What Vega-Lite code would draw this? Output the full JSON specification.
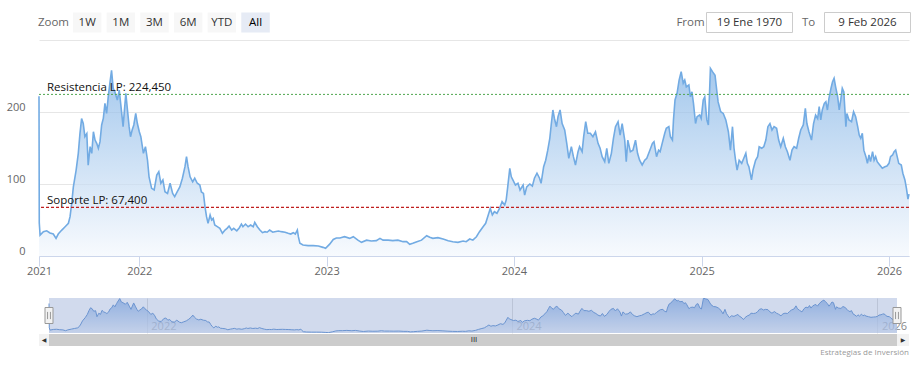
{
  "$schema": "https://vega.github.io/schema/vega-lite/v6.json",
  "background": "white",
  "padding": {"left": 6, "top": 9.5, "right": 14, "bottom": 5},
  "config": {
    "font": "Open Sans",
    "view": {"stroke": null},
    "axis": {"labelColor": "#666666", "labelFontSize": 11, "gridColor": "#e6e6e6", "title": null}
  },
  "datasets": {
    "toolbar": [{"item": "Zoom"}, {"item": "1W"}, {"item": "1M"}, {"item": "3M"}, {"item": "6M"}, {"item": "YTD"}, {"item": "All"}],
    "range": [{"item": "From"}, {"item": "19 Ene 1970"}, {"item": "To"}, {"item": "9 Feb 2026"}],
    "selection": [{"from": "2021-01-01", "to": "2026-02-09"}],
    "levels": [
      {"name": "Resistencia LP", "value": 224.45, "label": "Resistencia LP: 224,450"},
      {"name": "Soporte LP", "value": 67.4, "label": "Soporte LP: 67,400"}
    ],
    "prices": [
      {"d":"2021-01-01","v":222},{"d":"2021-01-02","v":46},{"d":"2021-01-05","v":29},{"d":"2021-01-17","v":33.8},{"d":"2021-01-29","v":35},{"d":"2021-02-10","v":32},{"d":"2021-02-22","v":30.5},{"d":"2021-03-04","v":24.5},{"d":"2021-03-12","v":30.5},{"d":"2021-03-25","v":36},{"d":"2021-04-06","v":40.7},{"d":"2021-04-18","v":45.4},{"d":"2021-04-24","v":54.6},{"d":"2021-04-30","v":73},{"d":"2021-05-06","v":96},{"d":"2021-05-16","v":119},{"d":"2021-05-24","v":142.6},{"d":"2021-05-30","v":170},{"d":"2021-06-05","v":191},{"d":"2021-06-11","v":184},{"d":"2021-06-17","v":165.7},{"d":"2021-06-24","v":170},{"d":"2021-06-29","v":126},{"d":"2021-07-06","v":151.8},{"d":"2021-07-12","v":142.6},{"d":"2021-07-18","v":172.6},{"d":"2021-07-24","v":161},{"d":"2021-07-30","v":156.5},{"d":"2021-08-05","v":149.5},{"d":"2021-08-11","v":158.8},{"d":"2021-08-17","v":182},{"d":"2021-08-23","v":191},{"d":"2021-08-29","v":212},{"d":"2021-09-04","v":198},{"d":"2021-09-10","v":221},{"d":"2021-09-16","v":240},{"d":"2021-09-22","v":258},{"d":"2021-09-28","v":233},{"d":"2021-10-04","v":228},{"d":"2021-10-13","v":216.7},{"d":"2021-10-20","v":230.5},{"d":"2021-10-29","v":198},{"d":"2021-11-03","v":179.6},{"d":"2021-11-13","v":226},{"d":"2021-11-19","v":202.8},{"d":"2021-11-25","v":179.6},{"d":"2021-11-30","v":165.7},{"d":"2021-12-06","v":175},{"d":"2021-12-12","v":182},{"d":"2021-12-19","v":198},{"d":"2021-12-25","v":184},{"d":"2022-01-01","v":172.6},
      {"d":"2022-01-04","v":165.7},{"d":"2022-01-09","v":142.6},{"d":"2022-01-13","v":151.8},{"d":"2022-01-17","v":133},{"d":"2022-01-20","v":110},{"d":"2022-01-25","v":94},{"d":"2022-01-30","v":91.7},{"d":"2022-02-04","v":112.5},{"d":"2022-02-08","v":117},{"d":"2022-02-12","v":101},{"d":"2022-02-16","v":105.6},{"d":"2022-02-20","v":89.3},{"d":"2022-02-25","v":87},{"d":"2022-03-02","v":101},{"d":"2022-03-07","v":87},{"d":"2022-03-11","v":82.4},{"d":"2022-03-16","v":89.3},{"d":"2022-03-21","v":96},{"d":"2022-03-26","v":108},{"d":"2022-03-31","v":124},{"d":"2022-04-03","v":138},{"d":"2022-04-06","v":124},{"d":"2022-04-10","v":110},{"d":"2022-04-15","v":103},{"d":"2022-04-19","v":108},{"d":"2022-04-24","v":101},{"d":"2022-04-29","v":98.6},{"d":"2022-05-02","v":89},{"d":"2022-05-06","v":87},{"d":"2022-05-09","v":68.5},{"d":"2022-05-12","v":54.6},{"d":"2022-05-15","v":45.4},{"d":"2022-05-19","v":57},{"d":"2022-05-22","v":50},{"d":"2022-05-25","v":52.3},{"d":"2022-05-28","v":43},{"d":"2022-06-02","v":40.7},{"d":"2022-06-07","v":38.4},{"d":"2022-06-12","v":31.5},{"d":"2022-06-17","v":36},{"d":"2022-06-21","v":38.4},{"d":"2022-06-25","v":41.7},{"d":"2022-06-30","v":36},{"d":"2022-07-04","v":38.4},{"d":"2022-07-10","v":35},{"d":"2022-07-15","v":39.3},{"d":"2022-07-19","v":44.4},{"d":"2022-07-22","v":40.7},{"d":"2022-07-27","v":44.4},{"d":"2022-08-01","v":40.7},{"d":"2022-08-06","v":43},{"d":"2022-08-11","v":40.7},{"d":"2022-08-14","v":46.8},{"d":"2022-08-19","v":40.7},{"d":"2022-08-24","v":36},{"d":"2022-08-29","v":32.4},{"d":"2022-09-03","v":33.8},{"d":"2022-09-07","v":33},{"d":"2022-09-12","v":36},{"d":"2022-09-18","v":33},{"d":"2022-09-22","v":33.8},{"d":"2022-09-29","v":34.7},{"d":"2022-10-05","v":33.8},{"d":"2022-10-12","v":33},{"d":"2022-10-18","v":31.5},{"d":"2022-10-23","v":30.5},{"d":"2022-10-28","v":32.4},{"d":"2022-11-01","v":30.5},{"d":"2022-11-05","v":36},{"d":"2022-11-07","v":26.8},{"d":"2022-11-10","v":17.6},{"d":"2022-11-16","v":15.3},{"d":"2022-11-26","v":14.4},{"d":"2022-12-06","v":14.4},{"d":"2022-12-16","v":13.9},{"d":"2022-12-25","v":12},{"d":"2022-12-30","v":10.6},
      {"d":"2023-01-07","v":16.5},{"d":"2023-01-14","v":23},{"d":"2023-01-20","v":25},{"d":"2023-01-27","v":25},{"d":"2023-02-05","v":26.8},{"d":"2023-02-15","v":24.5},{"d":"2023-02-22","v":26.8},{"d":"2023-03-03","v":22},{"d":"2023-03-10","v":19},{"d":"2023-03-20","v":22},{"d":"2023-03-29","v":20.8},{"d":"2023-04-08","v":21.3},{"d":"2023-04-15","v":24.5},{"d":"2023-04-21","v":22},{"d":"2023-05-01","v":22},{"d":"2023-05-10","v":21.3},{"d":"2023-05-20","v":22},{"d":"2023-05-30","v":19.9},{"d":"2023-06-06","v":19.9},{"d":"2023-06-12","v":16.2},{"d":"2023-06-18","v":17.6},{"d":"2023-06-26","v":19.9},{"d":"2023-07-05","v":22},{"d":"2023-07-15","v":28.2},{"d":"2023-07-21","v":26},{"d":"2023-07-27","v":24.5},{"d":"2023-08-06","v":25.5},{"d":"2023-08-16","v":23.6},{"d":"2023-08-26","v":21.3},{"d":"2023-09-04","v":19.9},{"d":"2023-09-14","v":19},{"d":"2023-09-24","v":20.8},{"d":"2023-09-30","v":19.9},{"d":"2023-10-07","v":23.6},{"d":"2023-10-13","v":22},{"d":"2023-10-20","v":26.8},{"d":"2023-10-26","v":33.8},{"d":"2023-11-02","v":40.7},{"d":"2023-11-07","v":45.4},{"d":"2023-11-11","v":54.6},{"d":"2023-11-16","v":66},{"d":"2023-11-20","v":57},{"d":"2023-11-24","v":61.5},{"d":"2023-11-29","v":59.3},{"d":"2023-12-04","v":66},{"d":"2023-12-09","v":75.4},{"d":"2023-12-14","v":70.8},{"d":"2023-12-17","v":77.8},{"d":"2023-12-20","v":96},{"d":"2023-12-24","v":121.8},{"d":"2023-12-27","v":110},{"d":"2023-12-30","v":105.6},
      {"d":"2024-01-04","v":98.6},{"d":"2024-01-09","v":101},{"d":"2024-01-13","v":91.7},{"d":"2024-01-19","v":98.6},{"d":"2024-01-22","v":84.7},{"d":"2024-01-26","v":96},{"d":"2024-02-01","v":100},{"d":"2024-02-06","v":97},{"d":"2024-02-10","v":108},{"d":"2024-02-15","v":115},{"d":"2024-02-20","v":108},{"d":"2024-02-23","v":101},{"d":"2024-02-28","v":124},{"d":"2024-03-03","v":133},{"d":"2024-03-07","v":147},{"d":"2024-03-11","v":163.5},{"d":"2024-03-14","v":184},{"d":"2024-03-17","v":202.8},{"d":"2024-03-20","v":191},{"d":"2024-03-24","v":179.6},{"d":"2024-03-27","v":193.5},{"d":"2024-03-31","v":202.8},{"d":"2024-04-04","v":184},{"d":"2024-04-09","v":175},{"d":"2024-04-13","v":156.5},{"d":"2024-04-17","v":135.7},{"d":"2024-04-22","v":151.8},{"d":"2024-04-26","v":138},{"d":"2024-04-30","v":126.4},{"d":"2024-05-05","v":144.9},{"d":"2024-05-08","v":151.8},{"d":"2024-05-13","v":144.9},{"d":"2024-05-16","v":165.7},{"d":"2024-05-20","v":186.5},{"d":"2024-05-24","v":170.4},{"d":"2024-05-29","v":170.4},{"d":"2024-06-03","v":165.7},{"d":"2024-06-08","v":172.6},{"d":"2024-06-13","v":156.5},{"d":"2024-06-17","v":149.6},{"d":"2024-06-21","v":138},{"d":"2024-06-26","v":131},{"d":"2024-06-30","v":149.6},{"d":"2024-07-04","v":128.7},{"d":"2024-07-09","v":142.6},{"d":"2024-07-13","v":163.5},{"d":"2024-07-17","v":179.6},{"d":"2024-07-22","v":186.5},{"d":"2024-07-26","v":168},{"d":"2024-07-30","v":184},{"d":"2024-08-04","v":161},{"d":"2024-08-07","v":131},{"d":"2024-08-10","v":161},{"d":"2024-08-15","v":144.9},{"d":"2024-08-20","v":147},{"d":"2024-08-25","v":161},{"d":"2024-08-29","v":142.6},{"d":"2024-09-02","v":133},{"d":"2024-09-07","v":126.4},{"d":"2024-09-12","v":133},{"d":"2024-09-16","v":135.7},{"d":"2024-09-22","v":147},{"d":"2024-09-27","v":156.5},{"d":"2024-09-30","v":158.8},{"d":"2024-10-05","v":138},{"d":"2024-10-09","v":147},{"d":"2024-10-12","v":144.9},{"d":"2024-10-16","v":156.5},{"d":"2024-10-21","v":170.4},{"d":"2024-10-24","v":177.3},{"d":"2024-10-29","v":179.6},{"d":"2024-11-01","v":165.7},{"d":"2024-11-05","v":161},{"d":"2024-11-07","v":189},{"d":"2024-11-10","v":216.7},{"d":"2024-11-14","v":226},{"d":"2024-11-18","v":244.4},{"d":"2024-11-22","v":256},{"d":"2024-11-26","v":240},{"d":"2024-11-29","v":244.4},{"d":"2024-12-02","v":235},{"d":"2024-12-07","v":237.5},{"d":"2024-12-10","v":221},{"d":"2024-12-13","v":228},{"d":"2024-12-16","v":212},{"d":"2024-12-20","v":184},{"d":"2024-12-23","v":193.5},{"d":"2024-12-28","v":195.8},{"d":"2024-12-31","v":191},
      {"d":"2025-01-04","v":216.7},{"d":"2025-01-07","v":221},{"d":"2025-01-11","v":189},{"d":"2025-01-14","v":182},{"d":"2025-01-18","v":260.6},{"d":"2025-01-22","v":256},{"d":"2025-01-27","v":251},{"d":"2025-01-31","v":226},{"d":"2025-02-02","v":214},{"d":"2025-02-07","v":200.4},{"d":"2025-02-12","v":198},{"d":"2025-02-17","v":189},{"d":"2025-02-22","v":172.6},{"d":"2025-02-26","v":147},{"d":"2025-03-02","v":179.6},{"d":"2025-03-05","v":149.6},{"d":"2025-03-08","v":133},{"d":"2025-03-11","v":119.4},{"d":"2025-03-15","v":133},{"d":"2025-03-20","v":128.7},{"d":"2025-03-24","v":135.7},{"d":"2025-03-28","v":142.6},{"d":"2025-03-31","v":128.7},{"d":"2025-04-03","v":124},{"d":"2025-04-08","v":105.6},{"d":"2025-04-11","v":119.4},{"d":"2025-04-16","v":133},{"d":"2025-04-20","v":138},{"d":"2025-04-23","v":151.8},{"d":"2025-04-28","v":149.6},{"d":"2025-05-02","v":151.8},{"d":"2025-05-06","v":161},{"d":"2025-05-10","v":179.6},{"d":"2025-05-14","v":184},{"d":"2025-05-18","v":175},{"d":"2025-05-22","v":179.6},{"d":"2025-05-27","v":177.3},{"d":"2025-05-31","v":161},{"d":"2025-06-04","v":151.8},{"d":"2025-06-09","v":163.5},{"d":"2025-06-13","v":151.8},{"d":"2025-06-17","v":144.9},{"d":"2025-06-22","v":133},{"d":"2025-06-26","v":147},{"d":"2025-06-30","v":151.8},{"d":"2025-07-05","v":149.6},{"d":"2025-07-09","v":163.5},{"d":"2025-07-13","v":175},{"d":"2025-07-18","v":182},{"d":"2025-07-22","v":205},{"d":"2025-07-25","v":184},{"d":"2025-07-29","v":172.6},{"d":"2025-08-03","v":161},{"d":"2025-08-07","v":184},{"d":"2025-08-11","v":195.8},{"d":"2025-08-15","v":191},{"d":"2025-08-18","v":207.4},{"d":"2025-08-21","v":189},{"d":"2025-08-24","v":202.8},{"d":"2025-08-28","v":212},{"d":"2025-08-31","v":214.3},{"d":"2025-09-03","v":202.8},{"d":"2025-09-06","v":219},{"d":"2025-09-10","v":233},{"d":"2025-09-13","v":242},{"d":"2025-09-16","v":246.8},{"d":"2025-09-19","v":235},{"d":"2025-09-23","v":221},{"d":"2025-09-26","v":202.8},{"d":"2025-09-29","v":216.7},{"d":"2025-10-02","v":233},{"d":"2025-10-05","v":228},{"d":"2025-10-09","v":179.6},{"d":"2025-10-11","v":198},{"d":"2025-10-15","v":189},{"d":"2025-10-20","v":186.5},{"d":"2025-10-24","v":200.4},{"d":"2025-10-28","v":193.5},{"d":"2025-11-01","v":179.6},{"d":"2025-11-04","v":168},{"d":"2025-11-07","v":163.5},{"d":"2025-11-10","v":170.4},{"d":"2025-11-13","v":147},{"d":"2025-11-17","v":138},{"d":"2025-11-20","v":128.7},{"d":"2025-11-23","v":140.3},{"d":"2025-11-26","v":131},{"d":"2025-11-30","v":144.9},{"d":"2025-12-03","v":133},{"d":"2025-12-06","v":138},{"d":"2025-12-09","v":131},{"d":"2025-12-14","v":126.4},{"d":"2025-12-19","v":121.8},{"d":"2025-12-24","v":124},{"d":"2025-12-28","v":125},
      {"d":"2026-01-01","v":128.7},{"d":"2026-01-04","v":138},{"d":"2026-01-08","v":140.3},{"d":"2026-01-11","v":144.9},{"d":"2026-01-14","v":147},{"d":"2026-01-17","v":138},{"d":"2026-01-20","v":128.7},{"d":"2026-01-25","v":126.4},{"d":"2026-01-28","v":115},{"d":"2026-02-01","v":105.6},{"d":"2026-02-04","v":94},{"d":"2026-02-07","v":79},{"d":"2026-02-09","v":86}
    ]
  },
  "spacing": 27.5,
  "bounds": "flush",
  "vconcat": [
    {
      "spacing": 391,
      "bounds": "flush",
      "hconcat": [
        {
          "width": 231,
          "height": 20,
          "data": {"name": "toolbar"},
          "layer": [
            {
              "transform": [{"filter": "datum.item !== 'Zoom'"}],
              "mark": {"type": "point", "shape": "M-0.983,-0.69H0.983V0.69H-0.983Z", "size": 841, "filled": true, "opacity": 1, "strokeWidth": 0},
              "encoding": {
                "x": {"field": "item", "type": "nominal", "sort": null, "scale": {"type": "band", "paddingInner": 0.14, "paddingOuter": 0, "domain": ["Zoom", "1W", "1M", "3M", "6M", "YTD", "All"]}, "axis": null},
                "color": {"condition": {"test": "datum.item === 'All'", "value": "#e6ebf5"}, "value": "#f7f7f7"}
              }
            },
            {
              "mark": {"type": "text", "fontSize": 11.5, "baseline": "middle"},
              "encoding": {
                "x": {"field": "item", "type": "nominal", "sort": null, "scale": {"type": "band", "paddingInner": 0.14, "paddingOuter": 0, "domain": ["Zoom", "1W", "1M", "3M", "6M", "YTD", "All"]}, "axis": null},
                "text": {"field": "item"},
                "color": {"condition": [{"test": "datum.item === 'Zoom'", "value": "#666666"}, {"test": "datum.item === 'All'", "value": "#000000"}], "value": "#333333"},
                "fontWeight": {"condition": {"test": "datum.item === 'All'", "value": "bold"}, "value": "normal"}
              }
            }
          ]
        },
        {
          "width": 236,
          "height": 20,
          "data": {"name": "range"},
          "layer": [
            {
              "transform": [{"filter": "datum.item !== 'From' && datum.item !== 'To'"}],
              "mark": {"type": "point", "shape": "M-1,-0.2326H1V0.2326H-1Z", "size": 7396, "filled": true, "fill": "white", "stroke": "#cccccc", "strokeWidth": 1, "opacity": 1},
              "encoding": {
                "x": {"field": "item", "type": "nominal", "sort": null, "scale": {"type": "point", "padding": 0.5, "domain": ["From", "19 Ene 1970", "To", "9 Feb 2026"]}, "axis": null}
              }
            },
            {
              "mark": {"type": "text", "fontSize": 11.5, "baseline": "middle"},
              "encoding": {
                "x": {"field": "item", "type": "nominal", "sort": null, "scale": {"type": "point", "padding": 0.5, "domain": ["From", "19 Ene 1970", "To", "9 Feb 2026"]}, "axis": null},
                "text": {"field": "item"},
                "color": {"condition": {"test": "datum.item === 'From' || datum.item === 'To'", "value": "#666666"}, "value": "#333333"}
              }
            }
          ]
        }
      ]
    },
    {
      "spacing": 42,
      "bounds": "flush",
      "vconcat": [
        {
          "width": 870,
          "height": 216,
          "layer": [
            {
              "data": {"name": "prices"},
              "mark": {
                "type": "area",
                "color": "#72abe3",
                "fill": {"gradient": "linear", "x1": 0, "y1": 0, "x2": 0, "y2": 1, "stops": [{"offset": 0, "color": "#7eb1e5"}, {"offset": 1, "color": "#f4f8fd"}]},
                "line": {"color": "#72abe3", "strokeWidth": 1.6}
              },
              "encoding": {
                "x": {
                  "field": "d", "type": "temporal",
                  "scale": {"type": "utc", "nice": false, "domain": [1609459200000, 1770595200000], "domainRaw": {"expr": "[1609459200000, 1640995200000, 1770595200000]"}, "range": [0, 100.3, 870]},
                  "axis": {
                    "values": [{"year": 2021, "month": 1, "date": 1, "utc": true}, {"year": 2022, "month": 1, "date": 1, "utc": true}, {"year": 2023, "month": 1, "date": 1, "utc": true}, {"year": 2024, "month": 1, "date": 1, "utc": true}, {"year": 2025, "month": 1, "date": 1, "utc": true}, {"year": 2026, "month": 1, "date": 1, "utc": true}],
                    "format": "%Y", "formatType": "utc", "labelFlush": false, "labelOverlap": false, "grid": false,
                    "domainColor": "#ccd6eb", "tickColor": "#ccd6eb", "tickSize": 10, "labelPadding": -1
                  }
                },
                "y": {
                  "field": "v", "type": "quantitative",
                  "scale": {"domain": [0, 300], "nice": false},
                  "axis": {"values": [0, 100, 200, 300], "labelExpr": "datum.value == 300 ? '' : datum.label", "domain": false, "ticks": false, "tickSize": 0, "labelPadding": 14, "labelOffset": -5, "grid": true}
                }
              }
            },
            {
              "data": {"name": "levels"},
              "transform": [{"filter": "datum.name === 'Resistencia LP'"}],
              "mark": {"type": "rule", "strokeWidth": 1, "stroke": "#4fa64f", "strokeDash": [2, 2]},
              "encoding": {"y": {"field": "value", "type": "quantitative"}}
            },
            {
              "data": {"name": "levels"},
              "transform": [{"filter": "datum.name === 'Soporte LP'"}],
              "mark": {"type": "rule", "strokeWidth": 1.2, "stroke": "#c01f1f", "strokeDash": [3, 2]},
              "encoding": {"y": {"field": "value", "type": "quantitative"}}
            },
            {
              "data": {"name": "levels"},
              "mark": {"type": "text", "align": "left", "baseline": "alphabetic", "dx": 8, "dy": -3, "fontSize": 11.5, "color": "#111111"},
              "encoding": {
                "x": {"datum": 1609459200000, "type": "temporal"},
                "y": {"field": "value", "type": "quantitative"},
                "text": {"field": "label"}
              }
            }
          ]
        },
        {
          "spacing": 1,
          "bounds": "flush",
          "vconcat": [
            {
              "width": 870,
              "height": 35,
              "layer": [
                {
                  "data": {"name": "prices"},
                  "mark": {
                    "type": "area", "clip": true,
                    "color": "#6d9bd6",
                    "fill": {"gradient": "linear", "x1": 0, "y1": 0, "x2": 0, "y2": 1, "stops": [{"offset": 0, "color": "#7eaae4"}, {"offset": 1, "color": "#e8eff9"}]},
                    "line": {"color": "#6d9bd6", "strokeWidth": 1}
                  },
                  "encoding": {
                    "x": {
                      "field": "d", "type": "temporal",
                      "scale": {"type": "utc", "nice": false, "domain": [1609459200000, 1770595200000], "domainRaw": {"expr": "[1609459200000, 1640995200000, 1770595200000]"}, "range": [10, 107.8, 858]},
                      "axis": {
                        "values": [{"year": 2022, "month": 1, "date": 1, "utc": true}, {"year": 2024, "month": 1, "date": 1, "utc": true}, {"year": 2026, "month": 1, "date": 1, "utc": true}],
                        "format": "%Y", "formatType": "utc", "labelFlush": false, "labelOverlap": false, "grid": true, "gridColor": "#e0e0e0",
                        "domain": false, "ticks": false, "tickSize": 0, "labelAlign": "left", "labelBaseline": "alphabetic", "labelPadding": -4, "labelOffset": 4, "labelColor": "#888888", "labelFontSize": 11
                      }
                    },
                    "y": {"field": "v", "type": "quantitative", "scale": {"domain": [8, 262], "nice": false, "zero": false}, "axis": null}
                  }
                },
                {
                  "data": {"name": "selection"},
                  "mark": {"type": "rect", "color": "#6685c2", "opacity": 0.3},
                  "encoding": {
                    "x": {"field": "from", "type": "temporal"},
                    "x2": {"field": "to"}
                  }
                },
                {
                  "data": {"name": "selection"},
                  "mark": {"type": "point", "shape": "M-0.5,-1H0.5V1H-0.5Z M-0.18,-0.45V0.45 M0.18,-0.45V0.45", "size": 256, "filled": true, "fill": "#f2f2f2", "stroke": "#999999", "strokeWidth": 1, "opacity": 1},
                  "encoding": {"x": {"field": "from", "type": "temporal"}}
                },
                {
                  "data": {"name": "selection"},
                  "mark": {"type": "point", "shape": "M-0.5,-1H0.5V1H-0.5Z M-0.18,-0.45V0.45 M0.18,-0.45V0.45", "size": 256, "filled": true, "fill": "#f2f2f2", "stroke": "#999999", "strokeWidth": 1, "opacity": 1},
                  "encoding": {"x": {"field": "to", "type": "temporal"}}
                }
              ]
            },
            {
              "width": 870,
              "height": 12,
              "view": {"fill": "#f2f2f2", "stroke": null},
              "title": {"text": "Estrategias de Inversión", "orient": "bottom", "anchor": "end", "fontSize": 8, "fontWeight": "normal", "color": "#999999", "offset": 3},
              "data": {"name": "selection"},
              "layer": [
                {
                  "mark": {"type": "rect", "color": "#cccccc"},
                  "encoding": {
                    "x": {"field": "from", "type": "temporal", "scale": {"type": "utc", "nice": false, "domain": [1609459200000, 1770595200000], "domainRaw": {"expr": "[1609459200000, 1640995200000, 1770595200000]"}, "range": [10, 107.8, 858]}, "axis": null},
                    "x2": {"field": "to"}
                  }
                },
                {
                  "mark": {"type": "text", "text": "◀", "font": "DejaVu Sans", "fontSize": 6, "color": "#333333", "dx": -5, "baseline": "middle"},
                  "encoding": {"x": {"field": "from", "type": "temporal"}}
                },
                {
                  "mark": {"type": "text", "text": "▶", "font": "DejaVu Sans", "fontSize": 6, "color": "#333333", "dx": 6, "baseline": "middle"},
                  "encoding": {"x": {"field": "to", "type": "temporal"}}
                },
                {
                  "mark": {"type": "text", "text": "III", "font": "Liberation Sans", "fontSize": 8, "color": "#333333", "baseline": "middle"}
                }
              ]
            }
          ]
        }
      ]
    }
  ]
}
